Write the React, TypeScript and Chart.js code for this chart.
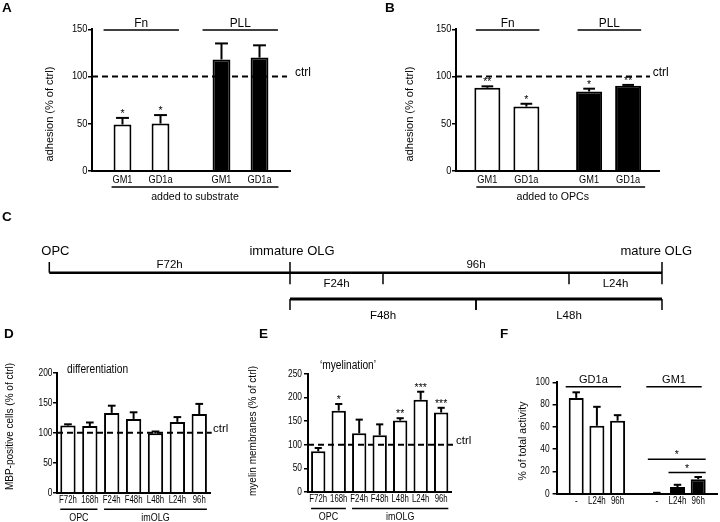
import React, { useEffect, useRef } from 'react';
import { Chart, registerables } from 'chart.js';

Chart.register(...registerables);

const FONT = 'Arial, "Liberation Sans", Helvetica, sans-serif';
const INK = '#050505';
const CTRL_LEVEL = 100;

// ---------- Panel A: added to substrate ----------
const adhesionGroups = ['Fn', 'PLL'];
const gangliosides = ['GM1', 'GD1a'];
const substrateGM1 = [49, 118];
const substrateGD1a = [50, 120];
const substrateErrGM1 = [7, 17];
const substrateErrGD1a = [9, 13];
const substrateSigGM1 = ['*', ''];
const substrateSigGD1a = ['*', ''];

// ---------- Panel B: added to OPCs ----------
const opcGM1 = [88, 84];
const opcGD1a = [68, 90];
const opcErrGM1 = [1.5, 3];
const opcErrGD1a = [3, 1];
const opcSigGM1 = ['**', '*'];
const opcSigGD1a = ['*', '**'];

const groupFill = ['#ffffff', '#000000'];

// ---------- Panel C: timeline ----------
const stageLabels = ['OPC', 'immature OLG', 'mature OLG'];
const stageHours = [0, 72, 168];
const stageSpanLabels = ['F72h', '96h'];
const shortLabels = ['F24h', 'L24h'];
const shortStart = [72, 144];
const shortEnd = [96, 168];
const longLabels = ['F48h', 'L48h'];
const longStart = [72, 120];
const longEnd = [120, 168];

// ---------- Panels D & E ----------
const treatments = ['F72h', '168h', 'F24h', 'F48h', 'L48h', 'L24h', '96h'];
const treatmentGroups = ['OPC', 'imOLG'];
const treatmentGroupSize = [2, 5];
const mbpValues = [112, 111, 133, 123, 99, 118, 131];
const mbpErr = [2, 6, 12, 11, 3, 8, 17];
const myelinValues = [86, 172, 124, 120, 151, 195, 168];
const myelinErr = [7, 14, 29, 23, 5, 17, 10];
const myelinSig = ['', '*', '', '', '**', '***', '***'];

// ---------- Panel F ----------
const activityGroups = ['GD1a', 'GM1'];
const activityTreatments = ['-', 'L24h', '96h'];
const activityNone = [86, 0.5];
const activityL24 = [61, 6];
const activity96 = [65.5, 13];
const activityErrNone = [5, 0.3];
const activityErrL24 = [17, 2];
const activityErr96 = [5, 2];
const activitySigGroup = 1;
const activitySigPairs = [[0, 2], [1, 2]];
const activitySigLevels = [31, 19];
const activitySigMarks = ['*', '*'];

// ---------- drawing helpers ----------
function txt(ctx: any, s: string, x: number, y: number, size: number, align: any = 'center', baseline: any = 'middle', sx = 1, bold = false) {
  ctx.save();
  ctx.translate(x, y);
  ctx.scale(sx, 1);
  ctx.font = `${bold ? 'bold ' : ''}${size}px ${FONT}`;
  ctx.fillStyle = INK;
  ctx.textAlign = align;
  ctx.textBaseline = baseline;
  ctx.fillText(s, 0, 0);
  ctx.restore();
}

function vtxt(ctx: any, s: string, x: number, y: number, size: number) {
  ctx.save();
  ctx.translate(x, y);
  ctx.rotate(-Math.PI / 2);
  ctx.font = `${size}px ${FONT}`;
  ctx.fillStyle = INK;
  ctx.textAlign = 'center';
  ctx.textBaseline = 'middle';
  ctx.fillText(s, 0, 0);
  ctx.restore();
}

function line(ctx: any, x1: number, y1: number, x2: number, y2: number, w = 1.5, dash: number[] = []) {
  ctx.save();
  ctx.strokeStyle = '#000';
  ctx.lineWidth = w;
  ctx.setLineDash(dash);
  ctx.beginPath();
  ctx.moveTo(x1, y1);
  ctx.lineTo(x2, y2);
  ctx.stroke();
  ctx.restore();
}

function yTicks(chart: any, size: number, gap: number, sx: number) {
  const ys = chart.scales.y;
  const left = chart.chartArea.left;
  ys.ticks.forEach((t: any) => txt(chart.ctx, String(t.value), left - gap, ys.getPixelForValue(t.value), size, 'right', 'middle', sx));
}

function ctrlLine(chart: any, endOff: number, labelOff: number, size: number) {
  const { left, right } = chart.chartArea;
  const y = chart.scales.y.getPixelForValue(CTRL_LEVEL);
  line(chart.ctx, left, y, right + endOff, y, 2, [6, 4]);
  txt(chart.ctx, 'ctrl', right + labelOff, y - 4, size, 'left', 'middle');
}

function errorBars(chart: any, errs: number[][], sigs: string[][] | null, capRatio: number) {
  const ctx = chart.ctx;
  const ys = chart.scales.y;
  errs.forEach((arr, di) => {
    const els = chart.getDatasetMeta(di).data;
    arr.forEach((e, j) => {
      const el = els[j];
      const v = chart.data.datasets[di].data[j];
      const topPx = ys.getPixelForValue(v + e);
      const cw = el.width * capRatio;
      line(ctx, el.x, el.y, el.x, topPx, 2);
      line(ctx, el.x - cw / 2, topPx, el.x + cw / 2, topPx, 2);
      const s = sigs && sigs[di] ? sigs[di][j] : '';
      if (s) txt(ctx, s, el.x, topPx - 1, 10.5, 'center', 'alphabetic');
    });
  });
}

function frame(canvasW: number, canvasH: number, area: number[]) {
  const [l, t, r, b] = area;
  return { padding: { left: 0, top: t, right: canvasW - r, bottom: 0 }, yWidth: l, xHeight: canvasH - b };
}

function baseOptions(padding: any) {
  return {
    responsive: false,
    animation: false,
    devicePixelRatio: 1,
    events: [],
    layout: { padding },
    plugins: { legend: { display: false }, tooltip: { enabled: false }, title: { display: false } },
  };
}

function yAxis(max: number, step: number, width: number) {
  return {
    min: 0,
    max,
    ticks: { stepSize: step, display: false },
    grid: { drawOnChartArea: false, drawTicks: true, tickLength: 4, color: '#000', lineWidth: 1.5 },
    border: { display: true, color: '#000', width: 2 },
    afterFit: (s: any) => { s.width = width; },
  };
}

function xAxis(height: number) {
  return {
    ticks: { display: false },
    grid: { display: false },
    border: { display: true, color: '#000', width: 2 },
    afterFit: (s: any) => { s.height = height; },
  };
}

// ---------- configs ----------
function adhesionConfig(p: any) {
  const f = frame(p.w, p.h, p.area);
  return {
    type: 'bar',
    data: {
      labels: adhesionGroups,
      datasets: [p.gm1, p.gd1a].map((d: number[], i: number) => ({
        label: gangliosides[i],
        data: d,
        backgroundColor: groupFill,
        borderColor: '#000',
        borderWidth: 2,
        barPercentage: p.barPct,
        categoryPercentage: p.catPct,
      })),
    },
    options: {
      ...baseOptions(f.padding),
      scales: { x: xAxis(f.xHeight), y: yAxis(150, 50, f.yWidth) },
    },
    plugins: [{
      id: 'adhesion' + p.letter,
      afterDraw(chart: any) {
        const ctx = chart.ctx;
        const { top, bottom } = chart.chartArea;
        txt(ctx, p.letter, p.letterX, 8.7, 13.5, 'left', 'middle', 1, true);
        yTicks(chart, 11, 4.5, 0.85);
        vtxt(ctx, 'adhesion (% of ctrl)', 50, 114, 11);
        ctrlLine(chart, p.ctrlEnd, p.ctrlLabel, 12);
        errorBars(chart, [p.errGM1, p.errGD1a], [p.sigGM1, p.sigGD1a], p.cap);
        const m0 = chart.getDatasetMeta(0).data;
        const m1 = chart.getDatasetMeta(1).data;
        [m0, m1].forEach((els: any[], di: number) => els.forEach((el: any) =>
          txt(ctx, gangliosides[di], el.x, bottom + 9.3, 10.5, 'center', 'middle', 0.88)));
        adhesionGroups.forEach((g, j) => {
          const x1 = m0[j].x - m0[j].width / 2 + p.topExt[0];
          const x2 = m1[j].x + m1[j].width / 2 + p.topExt[1];
          line(ctx, x1, top + 0.7, x2, top + 0.7, 1.5);
          txt(ctx, g, (x1 + x2) / 2, top - 6, 12.5, 'center', 'middle', 0.95);
        });
        const n = adhesionGroups.length - 1;
        const bx1 = m0[0].x - m0[0].width / 2 + p.bottomExt[0];
        const bx2 = m1[n].x + m1[n].width / 2 + p.bottomExt[1];
        line(ctx, bx1, bottom + 16.3, bx2, bottom + 16.3, 1.5);
        txt(ctx, p.caption, (bx1 + bx2) / 2 + p.captionShift, bottom + 26.3, 11.5, 'center', 'middle', 0.92);
      },
    }],
  };
}

function timecourseConfig(p: any) {
  const f = frame(p.w, p.h, p.area);
  return {
    type: 'bar',
    data: {
      labels: treatments,
      datasets: [{
        label: p.title,
        data: p.values,
        backgroundColor: '#ffffff',
        borderColor: '#000',
        borderWidth: 2,
        barPercentage: 0.7,
        categoryPercentage: 1,
      }],
    },
    options: {
      ...baseOptions(f.padding),
      scales: { x: xAxis(f.xHeight), y: yAxis(p.yMax, 50, f.yWidth) },
    },
    plugins: [{
      id: 'tc' + p.letter,
      afterDraw(chart: any) {
        const ctx = chart.ctx;
        const { bottom } = chart.chartArea;
        txt(ctx, p.letter, p.letterX, 12, 13.5, 'left', 'middle', 1, true);
        yTicks(chart, 10.5, p.tickGap, 0.8);
        vtxt(ctx, p.title, p.titleX, p.titleY, 10);
        txt(ctx, p.note, p.noteX, p.noteY, 12, p.noteAlign, 'middle', 0.85);
        ctrlLine(chart, p.ctrlEnd, p.ctrlLabel, 11.5);
        errorBars(chart, [p.errs], p.sigs ? [p.sigs] : null, 0.5);
        const els = chart.getDatasetMeta(0).data;
        els.forEach((el: any, j: number) => txt(ctx, treatments[j], el.x, bottom + 7.5, 10, 'center', 'middle', 0.78));
        let idx = 0;
        treatmentGroups.forEach((g, k) => {
          const a = els[idx];
          const b = els[idx + treatmentGroupSize[k] - 1];
          const x1 = a.x - a.width / 2;
          const x2 = b.x + b.width / 2;
          line(ctx, x1, bottom + 16.5, x2, bottom + 16.5, 1.5);
          txt(ctx, g, (x1 + x2) / 2, bottom + 25.5, 10.5, 'center', 'middle', 0.85);
          idx += treatmentGroupSize[k];
        });
      },
    }],
  };
}

function activityConfig() {
  const f = frame(230, 200, [66.6, 60.3, 227.8, 171.7]);
  const series = [activityNone, activityL24, activity96];
  return {
    type: 'bar',
    data: {
      labels: activityGroups,
      datasets: series.map((d, i) => ({
        label: activityTreatments[i],
        data: d,
        backgroundColor: groupFill,
        borderColor: '#000',
        borderWidth: 2,
        barPercentage: 0.725,
        categoryPercentage: 0.77,
      })),
    },
    options: {
      ...baseOptions(f.padding),
      scales: { x: xAxis(f.xHeight), y: yAxis(100, 20, f.yWidth) },
    },
    plugins: [{
      id: 'activity',
      afterDraw(chart: any) {
        const ctx = chart.ctx;
        const { top, bottom } = chart.chartArea;
        const ys = chart.scales.y;
        txt(ctx, 'F', 10, 12, 13.5, 'left', 'middle', 1, true);
        yTicks(chart, 10.5, 7, 0.8);
        vtxt(ctx, '% of total activity', 33, 119, 10.5);
        errorBars(chart, [activityErrNone, activityErrL24, activityErr96], null, 0.5);
        const metas = series.map((_, i) => chart.getDatasetMeta(i).data);
        metas.forEach((els: any[], di: number) => els.forEach((el: any) =>
          txt(ctx, activityTreatments[di], el.x, bottom + 8, 10, 'center', 'middle', 0.8)));
        const last = metas.length - 1;
        activityGroups.forEach((g, j) => {
          const a = metas[0][j];
          const b = metas[last][j];
          const x1 = a.x - a.width / 2 - 3;
          const x2 = b.x + b.width / 2 - 4;
          line(ctx, x1, top + 4.4, x2, top + 4.4, 1.5);
          txt(ctx, g, (x1 + x2) / 2, top - 2.3, 11);
        });
        activitySigPairs.forEach((pair, k) => {
          const a = metas[pair[0]][activitySigGroup];
          const b = metas[pair[1]][activitySigGroup];
          const x1 = a.x - a.width / 2 - 1.5;
          const x2 = b.x + b.width / 2;
          const y = ys.getPixelForValue(activitySigLevels[k]);
          line(ctx, x1, y, x2, y, 1.5);
          txt(ctx, activitySigMarks[k], (x1 + x2) / 2, y - 1, 10.5, 'center', 'alphabetic');
        });
      },
    }],
  };
}

const timelinePlugin = {
  id: 'timeline',
  afterDraw(chart: any) {
    const ctx = chart.ctx;
    const xi = chart.scales.x;
    const xo = chart.scales.xOpc;
    const px = (h: number) => (h < stageHours[1] ? xo : xi).getPixelForValue(h);
    const row1 = 67.7;
    const row2 = 94;
    const up = 10.7;
    const down = 11.5;
    txt(ctx, 'C', 2, 12.5, 13.5, 'left', 'middle', 1, true);
    line(ctx, px(stageHours[0]), row1, px(stageHours[stageHours.length - 1]), row1, 2.5);
    const stageAlign = ['left', 'center', 'right'];
    const stageShift = [-8, 2, 30];
    stageHours.forEach((h, i) => {
      const x = px(h);
      line(ctx, x, row1 - up, x, i === 0 ? row1 : row1 + down, 1.5);
      txt(ctx, stageLabels[i], x + stageShift[i], row1 - 21.7, 13, stageAlign[i]);
    });
    for (let i = 0; i < stageHours.length - 1; i++) {
      const a = px(stageHours[i]);
      const b = px(stageHours[i + 1]);
      txt(ctx, stageSpanLabels[i], (a + b) / 2, row1 - 8, 11.5);
    }
    shortLabels.forEach((s, i) => {
      const a = px(shortStart[i]);
      const b = px(shortEnd[i]);
      [shortStart[i], shortEnd[i]].forEach((h) => {
        if (stageHours.indexOf(h) < 0) line(ctx, px(h), row1, px(h), row1 + down, 1.5);
      });
      txt(ctx, s, (a + b) / 2, row1 + 11.3, 11.5);
    });
    const l0 = px(Math.min(...longStart));
    const l1 = px(Math.max(...longEnd));
    line(ctx, l0, row2, l1, row2, 2.8);
    longLabels.forEach((s, i) => {
      const a = px(longStart[i]);
      const b = px(longEnd[i]);
      line(ctx, a, row2, a, row2 + 11, 1.5);
      line(ctx, b, row2, b, row2 + 11, 1.5);
      txt(ctx, s, (a + b) / 2, row2 + 17, 11.5);
    });
  },
};

function timelineConfig() {
  return {
    type: 'scatter',
    data: { datasets: [] },
    options: {
      ...baseOptions({ left: 0, right: 0, top: 0, bottom: 0 }),
      scales: {
        x: { type: 'linear', display: false, min: -2.839, max: 182.97 },
        xOpc: { type: 'linear', axis: 'x', position: 'bottom', display: false, min: -14.747, max: 200.63 },
        y: { type: 'linear', display: false, min: 0, max: 1 },
      },
    },
    plugins: [timelinePlugin],
  };
}

function ChartCanvas({ left, top, width, height, make }: any) {
  const ref = useRef<HTMLCanvasElement>(null);
  useEffect(() => {
    const chart = new Chart(ref.current as any, make());
    return () => chart.destroy();
  }, []);
  return (
    <canvas
      ref={ref}
      width={width}
      height={height}
      style={{ position: 'absolute', left, top, width, height, display: 'block' }}
    />
  );
}

export default function App() {
  useEffect(() => {
    document.body.style.margin = '0';
  }, []);
  return (
    <div style={{ position: 'relative', width: 720, height: 522, background: '#fff', overflow: 'hidden' }}>
      <style>{'body{margin:0;background:#fff}'}</style>
      <ChartCanvas left={0} top={0} width={360} height={230} make={() => adhesionConfig({
        letter: 'A', letterX: 2, w: 360, h: 230, area: [92, 29.3, 290, 170.7],
        gm1: substrateGM1, gd1a: substrateGD1a, errGM1: substrateErrGM1, errGD1a: substrateErrGD1a,
        sigGM1: substrateSigGM1, sigGD1a: substrateSigGD1a, caption: 'added to substrate',
        barPct: 0.47, catPct: 0.768, cap: 0.72, topExt: [-10, 9.5], bottomExt: [-2, 10], captionShift: 0,
        ctrlEnd: -3, ctrlLabel: 5,
      })} />
      <ChartCanvas left={360} top={0} width={360} height={230} make={() => adhesionConfig({
        letter: 'B', letterX: 25, w: 360, h: 230, area: [96, 29.3, 299.5, 170.7],
        gm1: opcGM1, gd1a: opcGD1a, errGM1: opcErrGM1, errGD1a: opcErrGD1a,
        sigGM1: opcSigGM1, sigGD1a: opcSigGD1a, caption: 'added to OPCs',
        barPct: 0.667, catPct: 0.767, cap: 0.45, topExt: [1.5, 0], bottomExt: [2, 4], captionShift: -8,
        ctrlEnd: -9.5, ctrlLabel: -6.8,
      })} />
      <ChartCanvas left={0} top={205} width={720} height={117} make={timelineConfig} />
      <ChartCanvas left={0} top={322} width={245} height={200} make={() => timecourseConfig({
        letter: 'D', letterX: 4, w: 245, h: 200, area: [57, 50.7, 210.2, 170.7],
        values: mbpValues, errs: mbpErr, sigs: null, yMax: 200, tickGap: 4.5,
        title: 'MBP-positive cells (% of ctrl)', titleX: 10, titleY: 104.5,
        note: 'differentiation', noteX: 67, noteY: 48, noteAlign: 'left',
        ctrlEnd: 1.5, ctrlLabel: 2.8,
      })} />
      <ChartCanvas left={245} top={322} width={245} height={200} make={() => timecourseConfig({
        letter: 'E', letterX: 14, w: 245, h: 200, area: [63, 51.75, 206.4, 170],
        values: myelinValues, errs: myelinErr, sigs: myelinSig, yMax: 250, tickGap: 6,
        title: 'myelin membranes (% of ctrl)', titleX: 8, titleY: 109,
        note: '\u2018myelination\u2019', noteX: 103, noteY: 43.5, noteAlign: 'center',
        ctrlEnd: 1.6, ctrlLabel: 4.6,
      })} />
      <ChartCanvas left={490} top={322} width={230} height={200} make={activityConfig} />
    </div>
  );
}
